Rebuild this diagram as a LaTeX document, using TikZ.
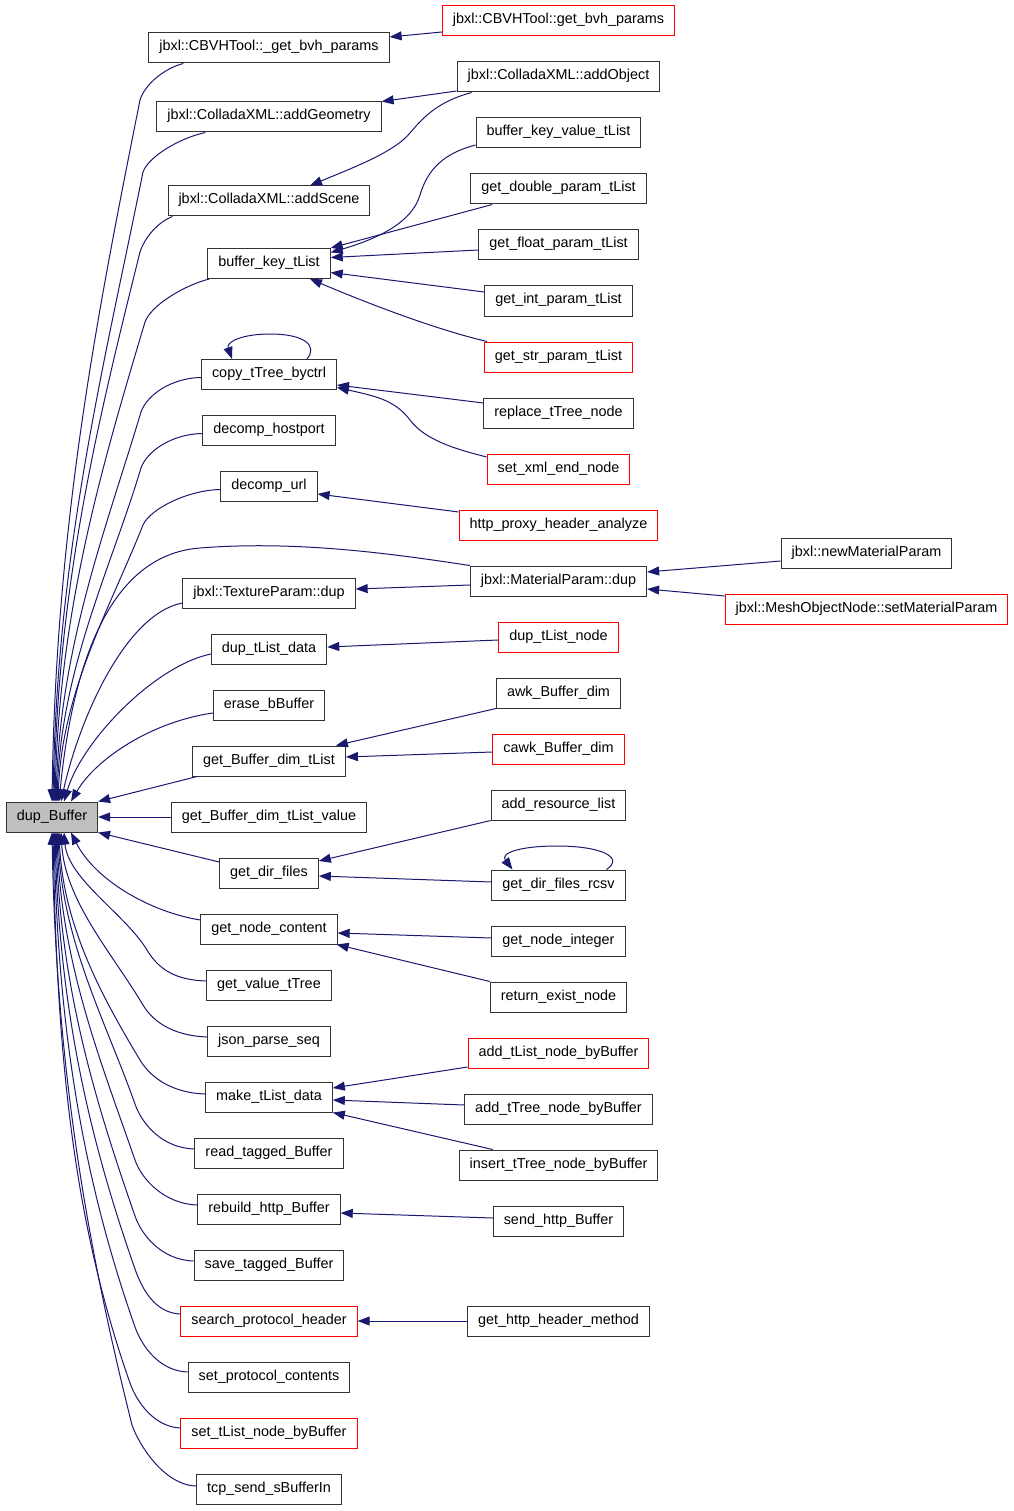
\documentclass[tikz,border=0pt]{standalone}
\usepackage{fontspec}
\setmainfont{Liberation Sans}
\usetikzlibrary{arrows.meta,calc}
\definecolor{edgeblue}{RGB}{25,25,112}
\definecolor{boxgray}{RGB}{191,191,191}
\begin{document}
\begin{tikzpicture}[x=1pt,y=-1pt,
  fn/.style={draw=black!80, line width=1pt, rectangle, minimum height=30pt,
    inner xsep=10.5pt, inner ysep=0pt, text height=10pt, text depth=4pt,
    font=\fontsize{14.4pt}{17pt}\selectfont, fill=white},
  redfn/.style={fn, draw=red},
  mainfn/.style={fn, fill=boxgray},
  conn/.style={draw=edgeblue, line width=1pt, -{Triangle[length=12pt,width=9pt]}}]
\useasboundingbox (0,0) rectangle (1013,1511);
% main node
\node[mainfn] (dup) at (52,817) {dup\_Buffer};
% left column
\node[fn] (cbvh) at (269,48) {jbxl::CBVHTool::\_get\_bvh\_params};
\node[fn] (addgeom) at (269,117) {jbxl::ColladaXML::addGeometry};
\node[fn] (addscene) at (269,201) {jbxl::ColladaXML::addScene};
\node[fn] (bkt) at (269,263.5) {buffer\_key\_tList};
\node[fn] (copy) at (269,374.5) {copy\_tTree\_byctrl};
\node[fn] (dhp) at (269,430.5) {decomp\_hostport};
\node[fn] (durl) at (269,486.5) {decomp\_url};
\node[fn] (tex) at (269,593) {jbxl::TextureParam::dup};
\node[fn] (dtld) at (269,649) {dup\_tList\_data};
\node[fn] (erase) at (269,705) {erase\_bBuffer};
\node[fn] (gbdt) at (269,761) {get\_Buffer\_dim\_tList};
\node[fn] (gbdtv) at (269,817) {get\_Buffer\_dim\_tList\_value};
\node[fn] (gdf) at (269,873) {get\_dir\_files};
\node[fn] (gnc) at (269,929) {get\_node\_content};
\node[fn] (gvt) at (269,985) {get\_value\_tTree};
\node[fn] (jps) at (269,1041) {json\_parse\_seq};
\node[fn] (mtd) at (269,1097) {make\_tList\_data};
\node[fn] (rtb) at (269,1153) {read\_tagged\_Buffer};
\node[fn] (rhb) at (269,1209) {rebuild\_http\_Buffer};
\node[fn] (stb) at (269,1265) {save\_tagged\_Buffer};
\node[redfn] (sph) at (269,1321) {search\_protocol\_header};
\node[fn] (spc) at (269,1377) {set\_protocol\_contents};
\node[redfn] (stnb) at (269,1433) {set\_tList\_node\_byBuffer};
\node[fn] (tcp) at (269,1489) {tcp\_send\_sBufferIn};
% right column
\node[redfn] (gbp) at (558.5,21) {jbxl::CBVHTool::get\_bvh\_params};
\node[fn] (addobj) at (558.5,77) {jbxl::ColladaXML::addObject};
\node[fn] (bkvt) at (558.5,133) {buffer\_key\_value\_tList};
\node[fn] (gdpt) at (558.5,189) {get\_double\_param\_tList};
\node[fn] (gfpt) at (558.5,245) {get\_float\_param\_tList};
\node[fn] (gipt) at (558.5,301) {get\_int\_param\_tList};
\node[redfn] (gspt) at (558.5,357) {get\_str\_param\_tList};
\node[fn] (rtn) at (558.5,413) {replace\_tTree\_node};
\node[redfn] (sxen) at (558.5,469) {set\_xml\_end\_node};
\node[redfn] (hpha) at (558.5,525) {http\_proxy\_header\_analyze};
\node[fn] (mpd) at (558.5,581) {jbxl::MaterialParam::dup};
\node[redfn] (dtln) at (558.5,637) {dup\_tList\_node};
\node[fn] (abd) at (558.5,693) {awk\_Buffer\_dim};
\node[redfn] (cabd) at (558.5,749) {cawk\_Buffer\_dim};
\node[fn] (arl) at (558.5,805) {add\_resource\_list};
\node[fn] (gdfr) at (558.5,885) {get\_dir\_files\_rcsv};
\node[fn] (gni) at (558.5,941) {get\_node\_integer};
\node[fn] (ren) at (558.5,997) {return\_exist\_node};
\node[redfn] (atnb) at (558.5,1053) {add\_tList\_node\_byBuffer};
\node[fn] (attnb) at (558.5,1109) {add\_tTree\_node\_byBuffer};
\node[fn] (ittnb) at (558.5,1165) {insert\_tTree\_node\_byBuffer};
\node[fn] (shb) at (558.5,1221) {send\_http\_Buffer};
\node[fn] (ghhm) at (558.5,1321) {get\_http\_header\_method};
% far right column
\node[fn] (nmp) at (866.5,553.5) {jbxl::newMaterialParam};
\node[redfn] (smp) at (866.5,609) {jbxl::MeshObjectNode::setMaterialParam};

% ---- edges into dup_Buffer (upper fan)
\draw[conn] ($(cbvh.south west)+(35,0)$) .. controls (165,68) and (145,84) .. (140,100) .. controls (98,311) and (56,521) .. ($(dup.north)+(0,0)$);
\draw[conn] ($(addgeom.south west)+(49,0)$) .. controls (180,138) and (149,156) .. (143,172) .. controls (105,361) and (57,550) .. ($(dup.north)+(1,0)$);
\draw[conn] ($(addscene.south west)+(5,0)$) .. controls (158,222) and (145,237) .. (140,252) .. controls (99,417) and (58,582) .. ($(dup.north)+(2,0)$);
\draw[conn] ($(bkt.south west)+(2,0)$) .. controls (185,285) and (151,305) .. (145,322) .. controls (102,466) and (59,610) .. ($(dup.north)+(3,0)$);
\draw[conn] ($(copy.west)+(0,3)$) .. controls (171,378) and (147,395) .. (141,412) .. controls (106,529) and (60,646) .. ($(dup.north)+(4,0)$);
\draw[conn] ($(dhp.west)+(0,3)$) .. controls (172,434) and (147,451) .. (141,468) .. controls (111,568) and (61,668) .. ($(dup.north)+(5,0)$);
\draw[conn] ($(durl.west)+(0,3)$) .. controls (188,490) and (150,509) .. (143,525) .. controls (110,608) and (62,691) .. ($(dup.north)+(6,0)$);
\draw[conn] (mpd.north west) .. controls (400,555) and (300,540) .. (200,548) .. controls (120,554) and (75,640) .. ($(dup.north)+(7,0)$);
\draw[conn] ($(tex.west)+(0,10)$) .. controls (125,614) and (79,720) .. ($(dup.north)+(9,0)$);
\draw[conn] ($(dtld.west)+(0,5)$) .. controls (154,666) and (82,741) .. ($(dup.north)+(12,0)$);
\draw[conn] ($(erase.west)+(0,8)$) .. controls (150,722) and (95,760) .. ($(dup.north)+(19,0)$);
\draw[conn] ($(gbdt.south west)+(5,0)$) -- (dup.north east);
\draw[conn] (gbdtv.west) -- (dup.east);
% ---- edges into dup_Buffer (lower fan)
\draw[conn] ($(gdf.west)+(0,-11)$) -- (dup.south east);
\draw[conn] ($(gnc.west)+(0,-9)$) .. controls (150,912) and (95,880) .. ($(dup.south)+(19,0)$);
\draw[conn] ($(gvt.west)+(0,-4)$) .. controls (176,980) and (159,970) .. (147,950) .. controls (126,915) and (68,879) .. ($(dup.south)+(12,0)$);
\draw[conn] ($(jps.west)+(0,-4)$) .. controls (178,1036) and (155,1025) .. (143,1005) .. controls (112,953) and (65,901) .. ($(dup.south)+(9,0)$);
\draw[conn] ($(mtd.west)+(0,-3)$) .. controls (175,1093) and (152,1080) .. (140,1060) .. controls (99,992) and (63,923) .. ($(dup.south)+(7,0)$);
\draw[conn] ($(rtb.west)+(0,-4)$) .. controls (162,1148) and (142,1124) .. (135,1104) .. controls (106,1022) and (62,941) .. ($(dup.south)+(6,0)$);
\draw[conn] ($(rhb.west)+(0,-4)$) .. controls (165,1204) and (142,1180) .. (135,1160) .. controls (101,1062) and (61,963) .. ($(dup.south)+(5,0)$);
\draw[conn] ($(stb.west)+(0,-4)$) .. controls (162,1260) and (142,1236) .. (135,1216) .. controls (95,1101) and (60,986) .. ($(dup.south)+(4,0)$);
\draw[conn] ($(sph.west)+(0,-7)$) .. controls (155,1313) and (142,1289) .. (135,1269) .. controls (89,1138) and (59,1007) .. ($(dup.south)+(3,0)$);
\draw[conn] ($(spc.west)+(0,-5)$) .. controls (160,1371) and (142,1347) .. (135,1327) .. controls (83,1179) and (58,1030) .. ($(dup.south)+(2,0)$);
\draw[conn] ($(stnb.west)+(0,-5)$) .. controls (155,1427) and (137,1403) .. (130,1383) .. controls (72,1218) and (57,1052) .. ($(dup.south)+(1,0)$);
\draw[conn] ($(tcp.west)+(0,-3)$) .. controls (164,1485) and (139,1445) .. (132,1425) .. controls (87.5,1247) and (56,1069) .. ($(dup.south)+(0,0)$);

% ---- edges from right column
\draw[conn] ($(gbp.west)+(0,11)$) -- ($(cbvh.east)+(0,-11)$);
\draw[conn] ($(addobj.west)+(0,14)$) -- (addgeom.north east);
\draw[conn] ($(addobj.south west)+(15,0)$) .. controls (440,101) and (425,115) .. (410,133) .. controls (395,151) and (360,165) .. ($(addscene.north)+(41,0)$);
\draw[conn] ($(bkvt.west)+(0,12)$) .. controls (445,153) and (428,168) .. (420,195) .. controls (412,222) and (380,238) .. ($(bkt.east)+(0,-11)$);
\draw[conn] ($(gdpt.south west)+(22,0)$) -- (bkt.north east);
\draw[conn] ($(gfpt.west)+(0,5)$) -- ($(bkt.east)+(0,-6)$);
\draw[conn] ($(gipt.west)+(0,-9)$) -- ($(bkt.east)+(0,9)$);
\draw[conn] ($(gspt.north west)+(3,0)$) .. controls (430,328) and (360,300) .. ($(bkt.south)+(41,0)$);
\draw[conn] ($(rtn.west)+(0,-10)$) -- ($(copy.east)+(0,10.5)$);
\draw[conn] ($(sxen.west)+(0,-12)$) .. controls (455,449) and (425,440) .. (410,420) .. controls (395,400) and (375,396) .. ($(copy.east)+(0,13)$);
\draw[conn] ($(copy.north)+(38,0)$) .. controls (318,346) and (305,334) .. (270,334) .. controls (242,334) and (226,342) .. ($(copy.north)+(-37,0)$);
\draw[conn] ($(hpha.west)+(0,-13)$) -- ($(durl.east)+(0,7.5)$);
\draw[conn] ($(mpd.west)+(0,4)$) -- ($(tex.east)+(0,-4)$);
\draw[conn] ($(nmp.west)+(0,7.5)$) -- ($(mpd.east)+(0,-9)$);
\draw[conn] ($(smp.west)+(0,-13)$) -- ($(mpd.east)+(0,8)$);
\draw[conn] ($(dtln.west)+(0,3)$) -- ($(dtld.east)+(0,-2)$);
\draw[conn] (abd.south west) -- ($(gbdt.north east)+(-10,0)$);
\draw[conn] ($(cabd.west)+(0,3)$) -- ($(gbdt.east)+(0,-4)$);
\draw[conn] (arl.south west) -- ($(gdf.east)+(0,-12)$);
\draw[conn] ($(gdfr.west)+(0,-3)$) -- ($(gdf.east)+(0,3)$);
\draw[conn] ($(gdfr.north)+(48,0)$) .. controls (625,857) and (600,846) .. (557,846) .. controls (520,846) and (500,853) .. ($(gdfr.north)+(-46,0)$);
\draw[conn] ($(gni.west)+(0,-3)$) -- ($(gnc.east)+(0,4)$);
\draw[conn] (ren.north west) -- ($(gnc.south east)+(-1,0)$);
\draw[conn] ($(atnb.west)+(0,14)$) -- ($(mtd.east)+(0,-9)$);
\draw[conn] ($(attnb.west)+(0,-4)$) -- ($(mtd.east)+(0,3)$);
\draw[conn] ($(ittnb.north west)+(34,0)$) -- (mtd.south east);
\draw[conn] ($(shb.west)+(0,-3)$) -- ($(rhb.east)+(0,4)$);
\draw[conn] (ghhm.west) -- (sph.east);
\end{tikzpicture}
\end{document}
